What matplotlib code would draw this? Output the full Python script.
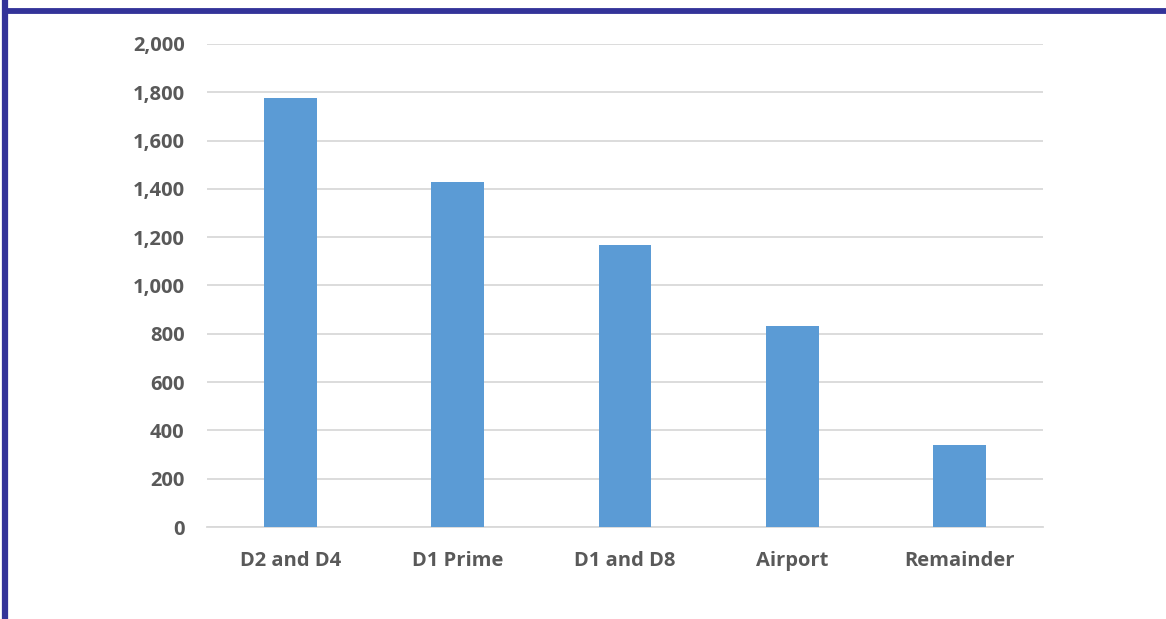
import matplotlib
matplotlib.use("Agg")
import matplotlib.pyplot as plt
from matplotlib.lines import Line2D
from matplotlib.ticker import FuncFormatter, MultipleLocator

categories = ["D2 and D4", "D1 Prime", "D1 and D8", "Airport", "Remainder"]
values = [1775, 1428, 1167, 832, 341]

plt.rcParams['font.family'] = ['Open Sans', 'DejaVu Sans']

fig = plt.figure(figsize=(11.66, 6.19), dpi=100)
ax = fig.add_axes([0.1775, 0.1486, 0.7170, 0.7804])

x = range(len(categories))
ax.bar(x, values, width=0.316, color="#5b9bd5", zorder=3)

ax.set_xlim(-0.5, len(categories) - 0.5)
ax.set_ylim(0, 2000)
ax.yaxis.set_major_locator(MultipleLocator(200))
ax.yaxis.set_major_formatter(FuncFormatter(lambda v, p: f"{int(v):,}"))
ax.grid(axis="y", color="#d9d9d9", linewidth=1.3, zorder=0)
ax.set_xticks(list(x))
ax.set_xticklabels(categories)

for s in ["top", "right", "left"]:
    ax.spines[s].set_visible(False)
ax.spines["bottom"].set_color("#d9d9d9")
ax.spines["bottom"].set_linewidth(1.3)
ax.tick_params(axis="both", length=0, labelsize=14.5, labelcolor="#595959")
ax.tick_params(axis="y", pad=16)
ax.tick_params(axis="x", pad=17)
for lbl in ax.get_xticklabels() + ax.get_yticklabels():
    lbl.set_fontweight("bold")

# page frame lines
frame = "#333399"
fig.add_artist(Line2D([0.0047, 0.0047], [0, 1.0], transform=fig.transFigure,
                      color=frame, linewidth=4.5, solid_capstyle="butt"))
fig.add_artist(Line2D([0.0026, 1.0], [0.982, 0.982], transform=fig.transFigure,
                      color=frame, linewidth=4.2, solid_capstyle="butt"))

fig.savefig("out.png", dpi=100)
